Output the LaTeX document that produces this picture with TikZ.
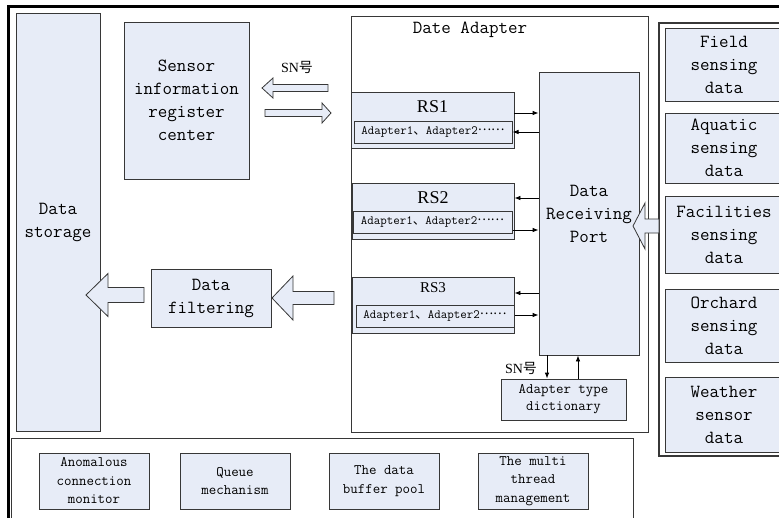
\documentclass[tikz,border=0pt]{standalone}
\usepackage{fontspec}
\newfontfamily\cjk{Noto Sans CJK SC}
\newfontfamily\tnr{Liberation Serif}
\usetikzlibrary{arrows.meta}
\definecolor{boxfill}{RGB}{231,236,247}
\definecolor{boxline}{RGB}{55,55,55}
\newcommand\mainf{\ttfamily\fontsize{18.5}{23}\selectfont}
\newcommand\smallf{\ttfamily\fontsize{14.5}{18.5}\selectfont}
\newcommand\adf{\ttfamily\fontsize{12.6}{14}\selectfont}
\newcommand\snf{\tnr\fontsize{14}{16}\selectfont}
\newcommand\adtext{Adapter1{\cjk 、}Adapter2\raisebox{0.32em}{\cjk ……}}
\newcommand\harrow[6]{% tipx, tipy, tailx, signed head length, head half height, shaft half height
  \filldraw[hollow] (#1,#2) -- ({#1+(#4)},{#2-(#5)}) -- ({#1+(#4)},{#2-(#6)}) -- (#3,{#2-(#6)})
   -- (#3,{#2+(#6)}) -- ({#1+(#4)},{#2+(#6)}) -- ({#1+(#4)},{#2+(#5)}) -- cycle;}
\begin{document}
\begin{tikzpicture}[x=1pt,y=-1pt,
  box/.style={draw=boxline, fill=boxfill, line width=0.8pt, inner sep=0pt, align=center},
  plain/.style={inner sep=0pt, align=center},
  hollow/.style={draw=boxline, fill=boxfill, line width=0.8pt, line join=miter},
  sarrow/.style={line width=0.8pt, -{Latex[length=6pt,width=4.5pt]}},
  panel/.style={draw=boxline, line width=0.9pt, fill=white}]
\clip (0,0) rectangle (779,517);
\fill[white] (0,0) rectangle (779,517);
% outer thick frame
\draw[line width=3pt] (8,530) -- (8,6) -- (790,6);

% data storage
\node[box, font=\mainf, minimum width=84pt, minimum height=418pt] (storage) at (58,222) {Data\\storage};
% sensor register center
\node[box, font=\mainf, minimum width=125pt, minimum height=157pt] (sensor) at (186.5,100.5) {Sensor\\information\\register\\center};

% date adapter
\node[panel, minimum width=297pt, minimum height=416pt, inner sep=0pt] (adapter) at (499.5,224) {};
\node[plain, font=\mainf] (title) at (470,30) {Date Adapter};

% RS groups
\node[box, minimum width=163pt, minimum height=56pt] (rs1) at (432.5,120) {};
\node[plain] (rs1t) at (432.5,107) {\tnr\fontsize{18}{20}\selectfont RS1};
\node[box, line width=1pt, font=\adf, minimum width=158pt, minimum height=22pt] (a1) at (433,132) {\adtext};

\node[box, minimum width=162pt, minimum height=56pt] (rs2) at (433,211) {};
\node[plain] (rs2t) at (433,198) {\tnr\fontsize{18}{20}\selectfont RS2};
\node[box, line width=1pt, font=\adf, minimum width=159pt, minimum height=22pt] (a2) at (432.5,222) {\adtext};

\node[box, minimum width=162pt, minimum height=56pt] (rs3) at (433,305) {};
\node[plain] (rs3t) at (433,288) {\tnr\fontsize{15}{17}\selectfont RS3};
\node[box, line width=1pt, font=\adf, minimum width=158pt, minimum height=22pt] (a3) at (435,316) {\adtext};

% data receiving port
\node[box, font=\mainf, minimum width=100pt, minimum height=283pt] (port) at (589,213.5) {Data\\Receiving\\Port};

% adapter type dictionary
\node[box, font=\ttfamily\fontsize{14.5}{17}\selectfont, minimum width=125pt, minimum height=41pt] (dict) at (563.5,399.5) {Adapter type\\dictionary};
\node[plain] (sn2) at (521,368) {\snf SN{\cjk 号}};
\draw[sarrow] ([xshift=-42pt]port.south) -- ([xshift=-42pt]port.south |- dict.north);
\draw[sarrow] ([xshift=-11pt]port.south |- dict.north) -- ([xshift=-11pt]port.south);

% small arrows RS <-> port
\coordinate (r1o) at ([yshift=7pt]rs1.east);
\coordinate (r1i) at (a1.east);
\draw[sarrow] (r1o) -- (r1o -| port.west);
\draw[sarrow] (r1i -| port.west) -- (r1i);
\coordinate (r2o) at ([yshift=13pt]rs2.east);
\coordinate (r2i) at ([yshift=-8pt]a2.east);
\draw[sarrow] (r2o -| port.west) -- (r2o);
\draw[sarrow] (r2i) -- (r2i -| port.west);
\coordinate (r3o) at ([yshift=12pt]rs3.east);
\coordinate (r3i) at ([yshift=1pt]a3.east);
\draw[sarrow] (r3o -| port.west) -- (r3o);
\draw[sarrow] (r3i) -- (r3i -| port.west);

% right panel of sensing data
\draw[draw=boxline, line width=1.2pt, fill=white] (659,23) rectangle (790,456);
\node[box, font=\mainf, minimum width=118pt, minimum height=73pt] (field) at (724,64.5) {Field\\sensing\\data};
\node[box, font=\mainf, minimum width=118pt, minimum height=70pt] (aquatic) at (724,148) {Aquatic\\sensing\\data};
\node[box, font=\mainf, minimum width=118pt, minimum height=77pt] (facil) at (724,234.5) {Facilities\\sensing\\data};
\node[box, font=\mainf, minimum width=118pt, minimum height=73pt] (orchard) at (724,325.5) {Orchard\\sensing\\data};
\node[box, font=\mainf, minimum width=118pt, minimum height=75pt] (weather) at (724,414.5) {Weather\\sensor\\data};

% data filtering
\node[box, font=\mainf, minimum width=120pt, minimum height=58pt] (filter) at (211,298) {Data\\filtering};

% SN label and hollow arrows between sensor center and RS1
\node[plain] (sn1) at (297,67) {\snf SN{\cjk 号}};
\harrow{262}{88}{328}{11}{10}{3.5}
\harrow{331}{113}{265}{-9}{10}{3.5}
% hollow arrow from sensing panel into port
\harrow{633}{226}{659}{12}{23}{7}
% hollow arrow RS3 -> filtering
\harrow{272}{298}{334}{21}{22}{6.5}
% hollow arrow filtering -> storage
\harrow{86}{295}{144}{22}{21.5}{7.5}

% bottom panel
\draw[panel] (11,530) -- (11,438) -- (633,438) -- (633,530);
\node[box, font=\smallf, minimum width=110pt, minimum height=56pt] (anom) at (94,481) {Anomalous\\connection\\monitor};
\node[box, font=\smallf, minimum width=110pt, minimum height=56pt] (queue) at (235,481) {Queue\\mechanism};
\node[box, font=\smallf, minimum width=110pt, minimum height=56pt] (buffer) at (384,481) {The data\\buffer pool};
\node[box, font=\smallf, minimum width=110pt, minimum height=56pt] (thread) at (533,481) {The multi\\thread\\management};
\end{tikzpicture}
\end{document}
